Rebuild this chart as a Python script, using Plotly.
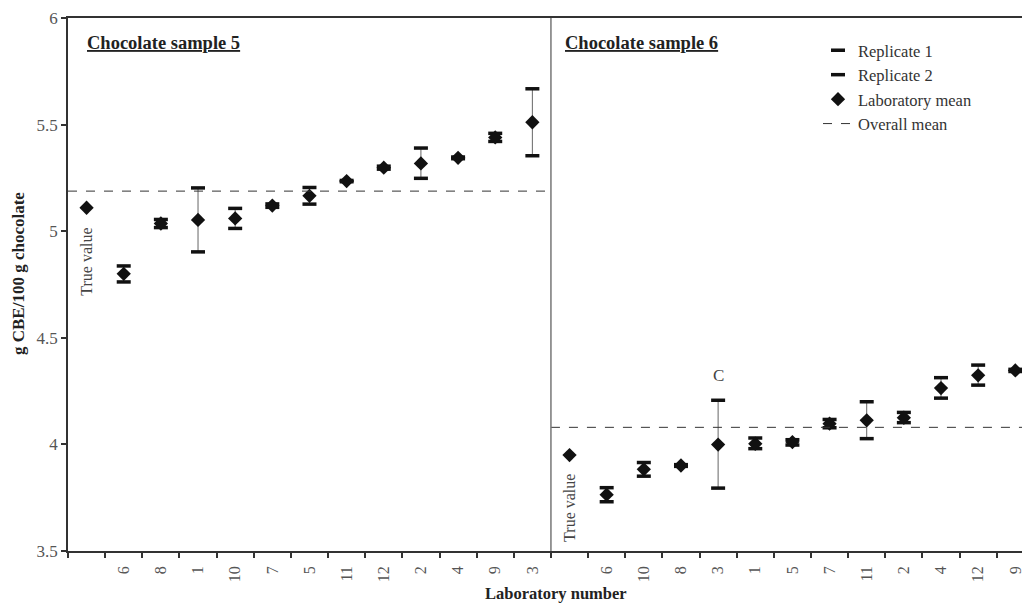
import plotly.graph_objects as go

# ---- data ----
labs5 = ["6", "8", "1", "10", "7", "5", "11", "12", "2", "4", "9", "3"]
rep1_5 = [4.837, 5.055, 5.203, 5.107, 5.128, 5.205, 5.238, 5.305, 5.390, 5.348, 5.459, 5.668]
rep2_5 = [4.762, 5.017, 4.903, 5.013, 5.112, 5.127, 5.232, 5.291, 5.248, 5.340, 5.421, 5.354]
mean5 = [4.800, 5.036, 5.053, 5.060, 5.120, 5.166, 5.235, 5.298, 5.318, 5.344, 5.440, 5.511]
true5 = 5.11
overall5 = 5.188

labs6 = ["6", "10", "8", "3", "1", "5", "7", "11", "2", "4", "12", "9"]
rep1_6 = [3.797, 3.915, 3.905, 4.207, 4.030, 4.022, 4.117, 4.200, 4.150, 4.313, 4.372, 4.352]
rep2_6 = [3.731, 3.851, 3.897, 3.795, 3.980, 3.997, 4.078, 4.027, 4.102, 4.217, 4.278, 4.342]
mean6 = [3.764, 3.883, 3.901, 3.999, 4.003, 4.011, 4.097, 4.113, 4.125, 4.264, 4.324, 4.347]
true6 = 3.95
overall6 = 4.080

n_slots = 13          # per panel: true value + 12 laboratories
x_end = 25.68         # right edge of visible plot area

FONT = "Liberation Serif"
INK = "#111111"

# category centres
xc5 = [i + 1.5 for i in range(len(labs5))]
xc6 = [n_slots + i + 1.5 for i in range(len(labs6))]
xs = xc5 + xc6
r1 = rep1_5 + rep1_6
r2 = rep2_5 + rep2_6
mn = mean5 + mean6

conn_x, conn_y = [], []
for x, a, b in zip(xs, r1, r2):
    conn_x += [x, x, None]
    conn_y += [a, b, None]

fig = go.Figure()

# connectors between replicates
fig.add_trace(go.Scatter(x=conn_x, y=conn_y, mode="lines",
                         line=dict(color="#666666", width=1),
                         showlegend=False, hoverinfo="skip"))
# replicates
fig.add_trace(go.Scatter(x=xs, y=r1, mode="markers", name="Replicate 1",
                         marker=dict(symbol="line-ew", size=10,
                                     line=dict(color=INK, width=3.5))))
fig.add_trace(go.Scatter(x=xs, y=r2, mode="markers", name="Replicate 2",
                         marker=dict(symbol="line-ew", size=10,
                                     line=dict(color=INK, width=3.5))))
# laboratory means
fig.add_trace(go.Scatter(x=xs, y=mn, mode="markers", name="Laboratory mean",
                         marker=dict(symbol="diamond", size=11, color=INK)))
# true values
fig.add_trace(go.Scatter(x=[0.5, n_slots + 0.5], y=[true5, true6], mode="markers",
                         marker=dict(symbol="diamond", size=11, color=INK),
                         showlegend=False))
# overall means
fig.add_trace(go.Scatter(x=[0, n_slots, None, n_slots, x_end],
                         y=[overall5, overall5, None, overall6, overall6],
                         mode="lines", name="Overall mean",
                         line=dict(color="#333333", width=1, dash="dash")))

# divider between panels
fig.add_shape(type="line", xref="x", yref="y", x0=n_slots, x1=n_slots, y0=3.5, y1=6,
              line=dict(color="#777777", width=1.5))

tickvals = [0.5] + xc5 + [n_slots + 0.5] + xc6
ticktext = [""] + labs5 + [""] + labs6

fig.update_xaxes(range=[0, x_end], tickmode="array", tickvals=tickvals, ticktext=ticktext,
                 tickangle=-90, ticks="outside", ticklen=7, tickcolor="rgba(0,0,0,0)",
                 tickfont=dict(family=FONT, size=16, color="#555555"),
                 ticklabeloverflow="allow",
                 showline=True, linecolor="#333333", linewidth=1.5, mirror=True,
                 showgrid=False, zeroline=False,
                 minor=dict(tickmode="array", tickvals=list(range(0, 26)), ticks="outside",
                            ticklen=5, tickcolor="#333333", tickwidth=1.5, showgrid=False))
fig.update_yaxes(range=[3.5, 6], dtick=0.5, tick0=3.5, ticks="outside", ticklen=5,
                 tickcolor="#333333", tickwidth=1.5,
                 tickfont=dict(family=FONT, size=17, color="#555555"),
                 showline=True, linecolor="#333333", linewidth=1.5,
                 showgrid=False, zeroline=False)

ann = [
    dict(text="<b><u>Chocolate sample 5</u></b>", x=(85 - 68) / 954, y=1 - (43 - 18) / 533,
         xref="paper", yref="paper", xanchor="left", yanchor="middle", showarrow=False,
         font=dict(family=FONT, size=18.5, color="#222222")),
    dict(text="<b><u>Chocolate sample 6</u></b>", x=(563 - 68) / 954, y=1 - (43 - 18) / 533,
         xref="paper", yref="paper", xanchor="left", yanchor="middle", showarrow=False,
         font=dict(family=FONT, size=18.5, color="#222222")),
    dict(text="True value", x=0.5, y=4.855, xref="x", yref="y", textangle=-90,
         showarrow=False, font=dict(family=FONT, size=16, color="#444444")),
    dict(text="True value", x=n_slots + 0.5, y=3.70, xref="x", yref="y", textangle=-90,
         showarrow=False, font=dict(family=FONT, size=16, color="#444444")),
    dict(text="C", x=xc6[labs6.index("3")], y=4.325, xref="x", yref="y",
         showarrow=False, font=dict(family=FONT, size=17, color="#444444")),
    dict(text="<b>Laboratory number</b>", x=(556 - 68) / 954, y=-(593 - 551) / 533,
         xref="paper", yref="paper", xanchor="center", yanchor="middle", showarrow=False,
         font=dict(family=FONT, size=16.5, color="#222222")),
    dict(text="<b>g CBE/100 g chocolate</b>", x=-(68 - 18) / 954, y=1 - (274 - 18) / 533,
         xref="paper", yref="paper", xanchor="center", yanchor="middle", textangle=-90,
         showarrow=False, font=dict(family=FONT, size=17, color="#222222")),
]

fig.update_layout(
    width=1022, height=605,
    margin=dict(l=68, r=0, t=18, b=54, autoexpand=False),
    paper_bgcolor="white", plot_bgcolor="white",
    annotations=ann,
    showlegend=True,
    legend=dict(x=(818 - 68) / 954, y=1 - (33 - 18) / 533, xanchor="left", yanchor="top",
                bgcolor="rgba(0,0,0,0)", font=dict(family=FONT, size=16.5, color="#333333"),
                itemwidth=30, tracegroupgap=0),
    font=dict(family=FONT),
)

fig.write_html("out.html", config={"displayModeBar": False},
               post_script="document.body.style.margin='0px';document.body.style.overflow='hidden';")
